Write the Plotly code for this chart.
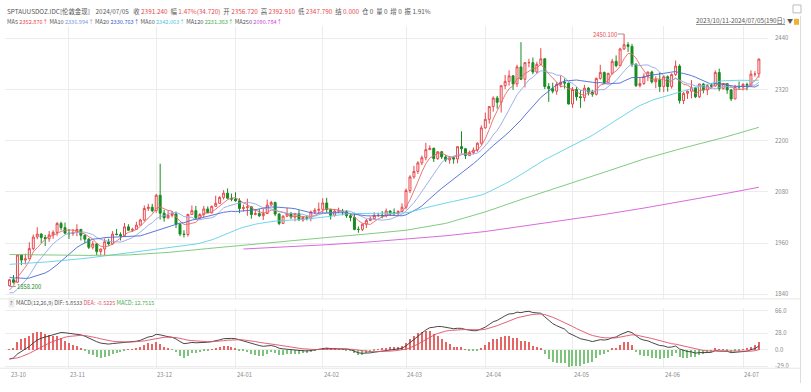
import numpy as np
import pandas as pd
import plotly.graph_objects as go

W, H = 811, 392

# ---------------- data ----------------
holidays = ["2023-12-25", "2024-01-01", "2024-03-29"]
dates = [d for d in pd.bdate_range("2023-10-11", "2024-07-05") if d.strftime("%Y-%m-%d") not in holidays]

# 19 sessions before the window (feed the MA10/MA20/MACD values seen at the left edge)
prior_closes = [1910, 1924, 1934, 1931, 1930, 1920, 1925, 1916, 1901, 1875, 1864, 1848,
                1827, 1822, 1821, 1820, 1833, 1862, 1861]

opens = [
    # Oct
    1860, 1874, 1868, 1932, 1920, 1923, 1947, 1974, 1981, 1973, 1970, 1979, 1985, 2006, 1996,
    # Nov
    1983, 1982, 1985, 1992, 1978, 1969, 1950, 1958, 1940, 1946, 1963, 1958, 1981, 1980, 1977, 1998, 1990, 1992, 2002, 2014, 2041, 2044,
    # Dec
    2036, 2072, 2030, 2019, 2025, 2028, 2004, 1981, 1980, 2027, 2036, 2019, 2027, 2040, 2031, 2046, 2053, 2067, 2077, 2065,
    # Jan
    2063, 2059, 2041, 2043, 2045, 2027, 2029, 2024, 2029, 2049, 2055, 2028, 2006, 2023, 2029, 2021, 2029, 2014, 2020, 2018, 2033, 2037,
    # Feb
    2039, 2054, 2039, 2025, 2035, 2035, 2034, 2024, 2020, 1992, 1992, 2004, 2013, 2017, 2025, 2025, 2024, 2035, 2031, 2029, 2034,
    # Mar
    2044, 2083, 2115, 2128, 2148, 2160, 2179, 2182, 2158, 2174, 2162, 2155, 2160, 2157, 2186, 2181, 2165, 2172, 2178, 2194,
    # Apr
    2230, 2250, 2280, 2300, 2290, 2329, 2339, 2352, 2333, 2373, 2344, 2383, 2383, 2361, 2379, 2392, 2327, 2322, 2316, 2332, 2337, 2335,
    # May
    2286, 2320, 2303, 2301, 2323, 2314, 2309, 2346, 2360, 2336, 2358, 2386, 2376, 2415, 2425, 2421, 2379, 2329, 2334, 2351, 2361, 2338, 2343,
    # Jun
    2327, 2350, 2327, 2355, 2375, 2294, 2311, 2316, 2324, 2303, 2333, 2319, 2329, 2328, 2360, 2322, 2334, 2319, 2298, 2327,
    # Jul
    2326, 2332, 2330, 2356, 2356.72,
]
highs = [
    1876, 1885, 1933, 1933, 1935, 1962, 1980, 1997, 1983, 1979, 1988, 1990, 2009, 2010, 2008,
    1993, 1993, 2004, 1993, 1980, 1972, 1965, 1960, 1947, 1971, 1970, 1988, 1993, 1985, 2007, 2004, 1996, 2010, 2017, 2048, 2052, 2052,
    2075, 2146, 2038, 2036, 2035, 2034, 2006, 1990, 2029, 2048, 2047, 2030, 2047, 2046, 2048, 2071, 2070, 2084, 2088, 2076,
    2079, 2065, 2050, 2064, 2046, 2040, 2040, 2040, 2062, 2059, 2057, 2030, 2025, 2042, 2033, 2031, 2037, 2023, 2025, 2036, 2042, 2055,
    2065, 2066, 2040, 2040, 2043, 2040, 2037, 2029, 2031, 1999, 2006, 2016, 2022, 2032, 2031, 2035, 2041, 2037, 2041, 2037, 2053,
    2088, 2119, 2141, 2152, 2165, 2195, 2189, 2184, 2175, 2176, 2166, 2164, 2163, 2187, 2222, 2183, 2177, 2184, 2196, 2236,
    2266, 2281, 2304, 2305, 2330, 2354, 2365, 2354, 2378, 2431, 2384, 2392, 2395, 2385, 2417, 2393, 2335, 2336, 2338, 2353, 2346, 2336,
    2326, 2326, 2319, 2331, 2326, 2319, 2348, 2378, 2362, 2359, 2392, 2400, 2418, 2450.1, 2431, 2427, 2382, 2348, 2358, 2362, 2364, 2351, 2360,
    2354, 2353, 2358, 2388, 2379, 2314, 2318, 2342, 2326, 2333, 2335, 2333, 2335, 2365, 2369, 2335, 2335, 2321, 2331, 2339,
    2335, 2336, 2365, 2363, 2392.91,
]
lows = [
    1858.2, 1865, 1867, 1908, 1910, 1922, 1943, 1969, 1960, 1953, 1963, 1970, 1977, 1990, 1982,
    1970, 1977, 1976, 1966, 1960, 1946, 1945, 1932, 1932, 1931, 1954, 1956, 1978, 1966, 1975, 1989, 1986, 1991, 2001, 2011, 2035, 2032,
    2031, 2015, 2010, 2016, 2020, 1995, 1976, 1973, 1975, 2026, 2016, 2016, 2021, 2030, 2029, 2045, 2052, 2062, 2064, 2058,
    2057, 2030, 2034, 2024, 2017, 2025, 2021, 2014, 2028, 2047, 2023, 2002, 2005, 2021, 2016, 2011, 2013, 2010, 2013, 2011, 2028, 2030,
    2031, 2031, 2015, 2022, 2030, 2025, 2019, 2011, 1990, 1984, 1988, 1995, 2011, 2014, 2021, 2018, 2020, 2024, 2026, 2025, 2032,
    2039, 2077, 2111, 2122, 2143, 2154, 2178, 2150, 2155, 2157, 2150, 2146, 2146, 2147, 2170, 2157, 2164, 2168, 2174, 2190,
    2228, 2240, 2268, 2275, 2266, 2321, 2329, 2319, 2326, 2342, 2325, 2372, 2356, 2357, 2376, 2321, 2291, 2311, 2308, 2325, 2322, 2285,
    2277, 2294, 2277, 2292, 2306, 2303, 2306, 2343, 2334, 2336, 2355, 2372, 2375, 2413, 2408, 2373, 2326, 2325, 2331, 2340, 2334, 2323, 2314,
    2314, 2315, 2322, 2352, 2287, 2286, 2298, 2299, 2300, 2300, 2311, 2307, 2323, 2327, 2316, 2320, 2310, 2293, 2297, 2319,
    2318, 2318, 2328, 2350, 2347.79,
]
closes = [
    1874, 1868, 1932, 1920, 1923, 1947, 1974, 1981, 1973, 1970, 1979, 1985, 2006, 1996, 1983,
    1982, 1985, 1992, 1978, 1969, 1950, 1958, 1940, 1946, 1963, 1958, 1981, 1980, 1977, 1998, 1990, 1992, 2002, 2014, 2041, 2044, 2036,
    2072, 2030, 2019, 2025, 2028, 2004, 1981, 1980, 2027, 2036, 2019, 2027, 2040, 2031, 2046, 2053, 2067, 2077, 2065, 2063,
    2059, 2041, 2043, 2045, 2027, 2029, 2024, 2029, 2049, 2055, 2028, 2006, 2023, 2029, 2021, 2029, 2014, 2020, 2018, 2033, 2037, 2039,
    2054, 2039, 2025, 2035, 2035, 2034, 2024, 2020, 1992, 1992, 2004, 2013, 2017, 2025, 2025, 2024, 2035, 2031, 2029, 2034, 2044,
    2083, 2115, 2128, 2148, 2160, 2179, 2182, 2158, 2174, 2162, 2155, 2160, 2157, 2186, 2181, 2165, 2172, 2178, 2194, 2230,
    2250, 2280, 2300, 2290, 2329, 2339, 2352, 2333, 2373, 2344, 2383, 2383, 2361, 2379, 2392, 2327, 2322, 2316, 2332, 2337, 2335, 2286,
    2320, 2303, 2301, 2323, 2314, 2309, 2346, 2360, 2336, 2358, 2386, 2376, 2415, 2425, 2421, 2379, 2329, 2334, 2351, 2361, 2338, 2343, 2327,
    2350, 2327, 2355, 2375, 2294, 2311, 2316, 2324, 2303, 2333, 2319, 2329, 2328, 2360, 2322, 2334, 2319, 2298, 2327, 2326,
    2332, 2330, 2356, 2356, 2391.24,
]

# long averages (their history starts before the window)
ma60_early_idx = [0, 10, 20, 30]
ma60_early = [1910, 1916, 1925, 1937]
ma120_idx = [0, 10, 20, 30, 40, 50, 60, 70, 80, 90, 100, 110, 120, 130, 140, 150, 160, 170, 180, 189]
ma120_vals = [1933, 1932, 1931, 1932, 1938, 1947, 1956, 1965, 1973, 1981, 1990, 2006, 2033, 2065, 2095, 2126, 2157, 2183, 2207, 2231.36]
ma250_idx = [59, 70, 80, 90, 100, 110, 120, 130, 140, 150, 160, 170, 180, 189]
ma250_vals = [1946, 1951, 1956, 1962, 1969, 1977, 1987, 2000, 2013, 2027, 2042, 2058, 2075, 2090.78]

month_labels = ["23-10", "23-11", "23-12", "24-01", "24-02", "24-03", "24-04", "24-05", "24-06", "24-07"]
price_ticks = [1840, 1960, 2080, 2200, 2320, 2440]
macd_ticks = [-29, 0, 28, 66]

# ---------------- derived ----------------
n = len(closes)
assert len(dates) == n == len(opens) == len(highs) == len(lows)
idx = list(range(n))
allc = pd.Series(prior_closes + closes, dtype=float)
npre = len(prior_closes)
ma5 = allc.rolling(5).mean().iloc[npre:].values
ma10 = allc.rolling(10).mean().iloc[npre:].values
ma20 = allc.rolling(20).mean().iloc[npre:].values
ma60c = allc.rolling(60).mean().iloc[npre:].values
ma60_x = ma60_early_idx + [i for i in idx if not np.isnan(ma60c[i])]
ma60_y = ma60_early + [ma60c[i] for i in idx if not np.isnan(ma60c[i])]

def ema(a, span):
    k = 2.0 / (span + 1)
    out = np.empty(len(a))
    out[0] = a[0]
    for i in range(1, len(a)):
        out[i] = k * a[i] + (1 - k) * out[i - 1]
    return out

arr = allc.values
dif_all = ema(arr, 12) - ema(arr, 26)
dea_all = ema(dif_all, 9)
dif = dif_all[npre:]
dea = dea_all[npre:]
macd = 2 * (dif - dea)

month_start = []
prev = None
for i, d in enumerate(dates):
    if d.month != prev:
        month_start.append(i)
        prev = d.month

# ---------------- styling helpers ----------------
def px_x(p):
    return p / W

def px_y(p):
    return 1 - p / H

RED = "#e8474c"
GREEN = "#168c20"
GRAY = "#8a8a8a"
DARK = "#555555"
FONT = "Noto Sans CJK SC, Noto Sans, sans-serif"

X0, X1 = 5, 768
xr = [-1.135, 191.3]
main_top, main_bot = 24, 300
macd_top, macd_bot = 309, 370

fig = go.Figure()

fig.add_trace(go.Candlestick(
    x=idx, open=opens, high=highs, low=lows, close=closes,
    increasing=dict(line=dict(color=RED, width=1), fillcolor="white"),
    decreasing=dict(line=dict(color=GREEN, width=1), fillcolor=GREEN),
    whiskerwidth=0, xaxis="x", yaxis="y", showlegend=False, hoverinfo="skip",
))

ma_style = [
    (idx, ma5, "#e66a6a"),
    (idx, ma10, "#93a7e6"),
    (idx, ma20, "#4a66d6"),
    (ma60_x, ma60_y, "#5fd0e6"),
    (ma120_idx, ma120_vals, "#74c474"),
    (ma250_idx, ma250_vals, "#d45ad8"),
]
for xs, ys, c in ma_style:
    fig.add_trace(go.Scatter(x=xs, y=ys, mode="lines", line=dict(color=c, width=0.9),
                             xaxis="x", yaxis="y", showlegend=False, hoverinfo="skip"))

fig.add_trace(go.Bar(
    x=idx, y=macd, width=0.28,
    marker=dict(color=["#e66464" if v >= 0 else "#7cc47c" for v in macd], line=dict(width=0)),
    xaxis="x2", yaxis="y2", showlegend=False, hoverinfo="skip",
))
fig.add_trace(go.Scatter(x=idx, y=dif, mode="lines", line=dict(color="#333333", width=0.9),
                         xaxis="x2", yaxis="y2", showlegend=False, hoverinfo="skip"))
fig.add_trace(go.Scatter(x=idx, y=dea, mode="lines", line=dict(color="#e0506a", width=0.9),
                         xaxis="x2", yaxis="y2", showlegend=False, hoverinfo="skip"))

grid_vals = month_start[1:]
axis_common = dict(range=xr, domain=[px_x(X0), px_x(X1)], showgrid=True, gridcolor="#ececec",
                   gridwidth=1, tickvals=grid_vals, showticklabels=False, zeroline=False,
                   showline=False, ticks="", rangeslider=dict(visible=False), fixedrange=True)
ya = dict(side="right", showgrid=True, gridcolor="#ececec", zeroline=False, showline=False,
          ticks="", tickfont=dict(size=6, color=GRAY, family=FONT), ticklabelstandoff=6, fixedrange=True)

fig.update_layout(
    width=W, height=H, margin=dict(l=0, r=0, t=0, b=0),
    paper_bgcolor="white", plot_bgcolor="white",
    font=dict(family=FONT, size=8, color=DARK),
    xaxis=dict(**axis_common, anchor="y"),
    xaxis2=dict(**axis_common, anchor="y2", matches="x"),
    yaxis=dict(**ya, domain=[px_y(main_bot), px_y(main_top)], range=[1828.9, 2469.5],
               tickvals=price_ticks, ticktext=[str(v) for v in price_ticks], anchor="x"),
    yaxis2=dict(**ya, domain=[px_y(macd_bot), px_y(macd_top)], range=[-32.2, 71.2],
                tickvals=macd_ticks, ticktext=["%.1f" % v for v in macd_ticks], anchor="x2"),
    bargap=0,
)

ann = []
# month labels
for lab, i in zip(month_labels, month_start):
    ann.append(dict(x=i, y=px_y(376), xref="x2", yref="paper", text=lab, showarrow=False,
                    xanchor="left", yanchor="middle", xshift=-1, font=dict(size=5.8, color=GRAY)))

sp = "\u00a0"
def c(t, col=RED):
    return '<span style="color:%s">%s</span>' % (col, t)

line1 = ("SPTAUUSDOZ.IDC[伦敦金现]" + sp * 4 + "2024/07/05" + sp * 3 +
         "收 " + c("2391.240") + sp * 2 + "幅 " + c("1.47%(34.720)") + sp * 2 +
         "开 " + c("2356.720") + sp * 2 + "高 " + c("2392.910") + sp * 2 +
         "低 " + c("2347.790") + sp * 2 + "结 " + c("0.000") + sp * 2 +
         "仓 0" + sp * 2 + "量 0" + sp * 2 + "增 0" + sp * 2 + "振 1.91%")
ann.append(dict(x=px_x(5), y=px_y(10), xref="paper", yref="paper", text=line1, showarrow=False,
                xanchor="left", yanchor="middle", font=dict(size=6.4, color=DARK)))

line2 = ("MA5 " + c("2352.876↑", "#e8474c") + " MA10 " + c("2336.994↑", "#7f9ae0") +
         " MA20 " + c("2330.763↑", "#3c5bd0") + " MA60 " + c("2342.063↑", "#4fc6e0") +
         " MA120 " + c("2231.363↑", "#3fae4a") + " MA250 " + c("2090.784↑", "#cc44d6"))
ann.append(dict(x=px_x(5), y=px_y(20), xref="paper", yref="paper", text=line2, showarrow=False,
                xanchor="left", yanchor="middle", font=dict(size=5.6, color=DARK)))

line3 = ("MACD(12,26,9)" + sp + "DIF: 5.8533" + sp + c("DEA: -0.5225", "#e0506a") + sp +
         c("MACD: 12.7515", "#3fae4a"))
ann.append(dict(x=px_x(14), y=px_y(304), xref="paper", yref="paper", text=line3, showarrow=False,
                xanchor="left", yanchor="middle", font=dict(size=5.5, color=DARK)))
ann.append(dict(x=px_x(11), y=px_y(304), xref="paper", yref="paper", text="?", showarrow=False,
                xanchor="center", yanchor="middle", font=dict(size=5, color=DARK),
                bgcolor="#eeeeee"))

ann.append(dict(x=px_x(787), y=px_y(19), xref="paper", yref="paper",
                text='<span style="text-decoration:underline">2023/10/11-2024/07/05(190日)</span>',
                showarrow=False, xanchor="right", yanchor="middle", font=dict(size=6.3, color=DARK)))
ann.append(dict(x=px_x(790), y=px_y(19), xref="paper", yref="paper", text="▼", showarrow=False,
                xanchor="center", yanchor="middle", font=dict(size=6, color=DARK)))

# high / low markers
hi_i = int(np.argmax(highs))
lo_i = int(np.argmin(lows))
ann.append(dict(x=hi_i - 1.6, y=highs[hi_i], xref="x", yref="y", text="%.3f" % highs[hi_i],
                showarrow=False, xanchor="right", yanchor="middle", xshift=1,
                font=dict(size=5.8, color=RED)))
ann.append(dict(x=lo_i + 1.6, y=lows[lo_i], xref="x", yref="y", text="%.3f" % lows[lo_i],
                showarrow=False, xanchor="left", yanchor="middle", xshift=-1,
                font=dict(size=5.8, color=GREEN)))

fig.update_layout(annotations=ann)

shapes = [
    dict(type="line", xref="x", yref="y", x0=hi_i - 1.6, x1=hi_i, y0=highs[hi_i], y1=highs[hi_i],
         line=dict(color="#999999", width=1)),
    dict(type="line", xref="x", yref="y", x0=lo_i, x1=lo_i + 1.6, y0=lows[lo_i], y1=lows[lo_i],
         line=dict(color="#999999", width=1)),
    dict(type="line", xref="paper", yref="paper", x0=0, x1=px_x(800), y0=px_y(300), y1=px_y(300),
         line=dict(color="#e6e6e6", width=1)),
    dict(type="line", xref="paper", yref="paper", x0=0, x1=px_x(800), y0=px_y(370), y1=px_y(370),
         line=dict(color="#e6e6e6", width=1)),
    dict(type="line", xref="paper", yref="paper", x0=px_x(800.5), x1=px_x(800.5), y0=px_y(14), y1=px_y(385),
         line=dict(color="#dddddd", width=1)),
    dict(type="rect", xref="paper", yref="paper", x0=px_x(794), x1=px_x(799), y0=px_y(23), y1=px_y(17),
         line=dict(width=0), fillcolor="#f0b030"),
    dict(type="rect", xref="paper", yref="paper", x0=px_x(793), x1=px_x(801), y0=px_y(11), y1=px_y(3),
         line=dict(color="#bbbbbb", width=1), fillcolor="white"),
]
fig.update_layout(shapes=shapes)

fig.write_html("out.html", config={"displayModeBar": False},
               post_script="document.body.style.margin='0';document.body.style.overflow='hidden';")
